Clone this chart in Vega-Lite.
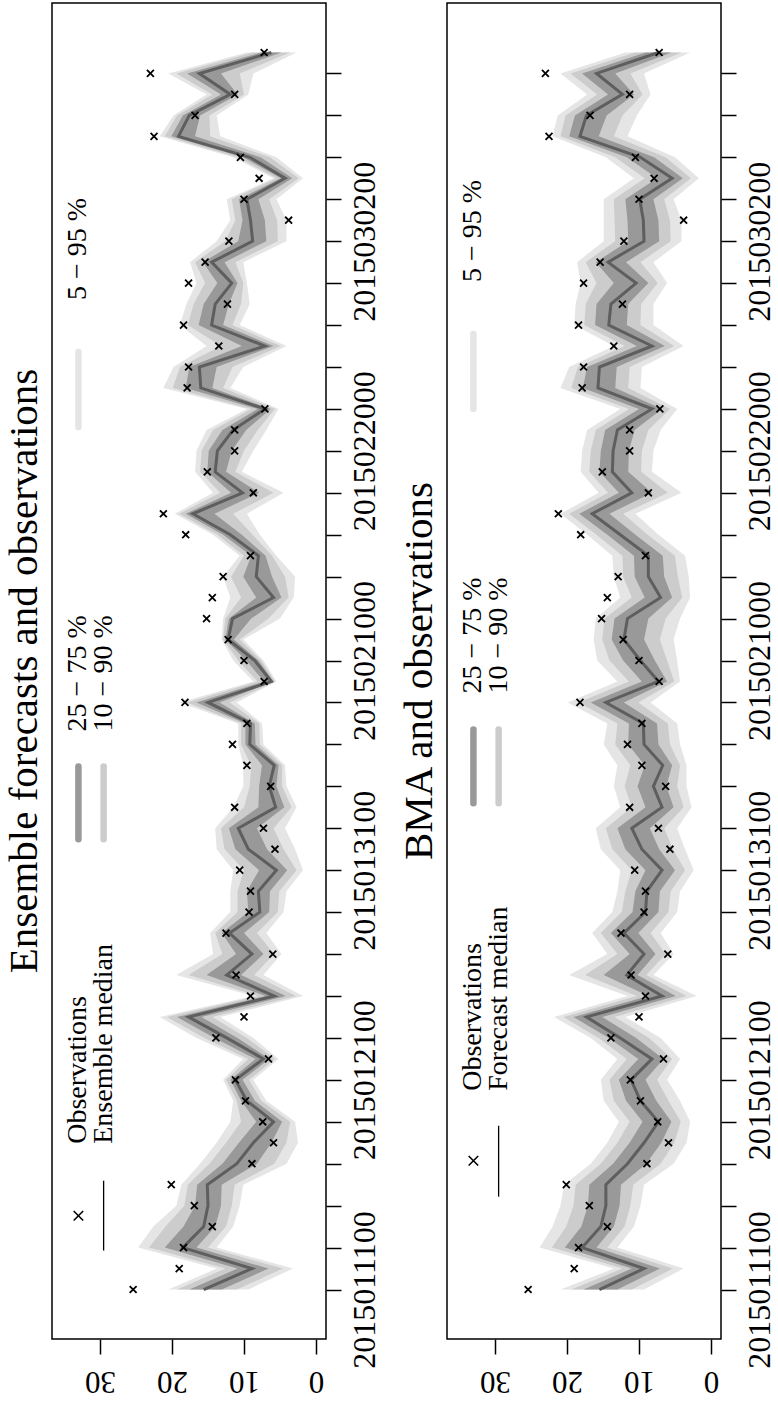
{
"$schema": "https://vega.github.io/schema/vega-lite/v6.json",
"background": "white",
"padding": {"left": 3, "top": 2, "right": 0, "bottom": 6},
"spacing": 17,
"config": {"view": {"stroke": "black", "strokeWidth": 1.5}, "font": "Liberation Serif"},
"datasets": {
"ens": [
{"date":"2015-01-11","obs":25.4,"q05":9.4,"q10":11.0,"q25":13.1,"q50":15.6,"q75":17.6,"q90":19.3,"q95":20.5},
{"date":"2015-01-12","obs":19.0,"q05":3.2,"q10":4.6,"q25":6.6,"q50":8.9,"q75":10.9,"q90":12.6,"q95":13.8},
{"date":"2015-01-13","obs":18.4,"q05":13.8,"q10":15.0,"q25":16.6,"q50":18.5,"q75":21.0,"q90":23.2,"q95":24.7},
{"date":"2015-01-14","obs":14.4,"q05":11.5,"q10":12.5,"q25":14.0,"q50":15.6,"q75":18.4,"q90":20.9,"q95":22.6},
{"date":"2015-01-15","obs":16.9,"q05":10.6,"q10":11.7,"q25":13.2,"q50":15.0,"q75":16.8,"q90":18.3,"q95":19.4},
{"date":"2015-01-16","obs":20.1,"q05":10.1,"q10":11.3,"q25":13.1,"q50":15.1,"q75":16.5,"q90":17.8,"q95":18.7},
{"date":"2015-01-17","obs":8.9,"q05":4.1,"q10":5.8,"q25":8.2,"q50":11.0,"q75":13.0,"q90":14.8,"q95":16.1},
{"date":"2015-01-18","obs":5.9,"q05":2.5,"q10":4.1,"q25":6.2,"q50":8.7,"q75":10.7,"q90":12.5,"q95":13.8},
{"date":"2015-01-19","obs":7.4,"q05":2.9,"q10":3.6,"q25":4.7,"q50":5.9,"q75":8.3,"q90":10.4,"q95":11.9},
{"date":"2015-01-20","obs":9.8,"q05":6.9,"q10":7.6,"q25":8.5,"q50":9.6,"q75":10.4,"q90":11.0,"q95":11.5},
{"date":"2015-01-21","obs":11.2,"q05":8.7,"q10":9.3,"q25":10.2,"q50":11.2,"q75":11.9,"q90":12.5,"q95":12.9},
{"date":"2015-01-22","obs":6.6,"q05":5.2,"q10":5.7,"q25":6.5,"q50":7.3,"q75":8.4,"q90":9.4,"q95":10.1},
{"date":"2015-01-23","obs":13.9,"q05":8.7,"q10":9.6,"q25":10.9,"q50":12.4,"q75":14.1,"q90":15.5,"q95":16.6},
{"date":"2015-01-24","obs":10.0,"q05":13.3,"q10":14.4,"q25":15.9,"q50":17.7,"q75":19.3,"q90":20.7,"q95":21.7},
{"date":"2015-01-25","obs":9.1,"q05":1.8,"q10":2.8,"q25":4.2,"q50":5.8,"q75":7.0,"q90":8.0,"q95":8.7},
{"date":"2015-01-26","obs":11.1,"q05":7.3,"q10":8.6,"q25":10.4,"q50":12.4,"q75":15.2,"q90":17.7,"q95":19.4},
{"date":"2015-01-27","obs":6.0,"q05":4.8,"q10":5.8,"q25":7.3,"q50":8.9,"q75":11.1,"q90":13.0,"q95":14.3},
{"date":"2015-01-28","obs":12.5,"q05":6.9,"q10":8.2,"q25":10.0,"q50":12.0,"q75":13.1,"q90":14.0,"q95":14.7},
{"date":"2015-01-29","obs":9.3,"q05":4.5,"q10":5.3,"q25":6.5,"q50":7.8,"q75":9.4,"q90":10.9,"q95":11.9},
{"date":"2015-01-30","obs":9.1,"q05":4.1,"q10":5.1,"q25":6.4,"q50":8.0,"q75":9.6,"q90":10.9,"q95":11.9},
{"date":"2015-01-31","obs":10.6,"q05":1.8,"q10":2.7,"q25":4.0,"q50":5.5,"q75":7.9,"q90":10.0,"q95":11.5},
{"date":"2015-02-01","obs":5.7,"q05":2.9,"q10":4.5,"q25":6.8,"q50":9.4,"q75":11.2,"q90":12.7,"q95":13.8},
{"date":"2015-02-02","obs":7.3,"q05":4.3,"q10":5.9,"q25":8.2,"q50":10.8,"q75":12.1,"q90":13.2,"q95":14.0},
{"date":"2015-02-03","obs":11.3,"q05":2.7,"q10":3.4,"q25":4.4,"q50":5.6,"q75":8.0,"q90":10.0,"q95":11.5},
{"date":"2015-02-04","obs":6.3,"q05":4.1,"q10":4.7,"q25":5.5,"q50":6.5,"q75":7.9,"q90":9.2,"q95":10.1},
{"date":"2015-02-05","obs":9.6,"q05":4.3,"q10":4.7,"q25":5.2,"q50":5.8,"q75":7.5,"q90":9.0,"q95":10.1},
{"date":"2015-02-06","obs":11.6,"q05":7.3,"q10":7.8,"q25":8.4,"q50":9.2,"q75":9.8,"q90":10.4,"q95":10.8},
{"date":"2015-02-07","obs":9.6,"q05":7.5,"q10":7.9,"q25":8.5,"q50":9.1,"q75":9.8,"q90":10.4,"q95":10.8},
{"date":"2015-02-08","obs":18.2,"q05":11.0,"q10":12.0,"q25":13.4,"q50":15.0,"q75":16.6,"q90":17.9,"q95":18.9},
{"date":"2015-02-09","obs":7.2,"q05":5.5,"q10":5.7,"q25":5.9,"q50":6.2,"q75":7.2,"q90":8.1,"q95":8.7},
{"date":"2015-02-10","obs":10.0,"q05":7.3,"q10":7.6,"q25":8.0,"q50":8.5,"q75":9.7,"q90":10.8,"q95":11.5},
{"date":"2015-02-11","obs":12.2,"q05":10.1,"q10":10.6,"q25":11.4,"q50":12.2,"q75":12.6,"q90":12.9,"q95":13.1},
{"date":"2015-02-12","obs":15.2,"q05":5.0,"q10":6.6,"q25":9.0,"q50":11.6,"q75":12.1,"q90":12.6,"q95":12.9},
{"date":"2015-02-13","obs":14.4,"q05":3.1,"q10":3.8,"q25":4.8,"q50":5.9,"q75":8.3,"q90":10.4,"q95":11.9},
{"date":"2015-02-14","obs":12.9,"q05":2.9,"q10":4.3,"q25":6.1,"q50":8.3,"q75":10.1,"q90":11.8,"q95":12.9},
{"date":"2015-02-15","obs":9.1,"q05":5.5,"q10":6.1,"q25":7.0,"q50":8.0,"q75":9.0,"q90":10.0,"q95":10.6},
{"date":"2015-02-16","obs":18.1,"q05":7.8,"q10":8.8,"q25":10.3,"q50":11.9,"q75":12.9,"q90":13.7,"q95":14.3},
{"date":"2015-02-17","obs":21.2,"q05":9.6,"q10":11.5,"q25":14.1,"q50":17.1,"q75":18.1,"q90":19.0,"q95":19.6},
{"date":"2015-02-18","obs":8.7,"q05":4.5,"q10":5.9,"q25":7.9,"q50":10.2,"q75":11.8,"q90":13.3,"q95":14.3},
{"date":"2015-02-19","obs":15.1,"q05":10.3,"q10":11.2,"q25":12.5,"q50":14.0,"q75":15.1,"q90":16.1,"q95":16.8},
{"date":"2015-02-20","obs":11.3,"q05":8.7,"q10":10.0,"q25":11.7,"q50":13.7,"q75":14.9,"q90":15.9,"q95":16.6},
{"date":"2015-02-21","obs":11.3,"q05":6.9,"q10":8.1,"q25":9.7,"q50":11.5,"q75":13.0,"q90":14.3,"q95":15.2},
{"date":"2015-02-22","obs":7.1,"q05":5.2,"q10":5.7,"q25":6.3,"q50":7.1,"q75":8.1,"q90":9.0,"q95":9.6},
{"date":"2015-02-23","obs":17.9,"q05":11.9,"q10":12.9,"q25":14.4,"q50":16.0,"q75":18.1,"q90":19.9,"q95":21.2},
{"date":"2015-02-24","obs":17.7,"q05":10.1,"q10":11.6,"q25":13.8,"q50":16.2,"q75":17.6,"q90":18.9,"q95":19.8},
{"date":"2015-02-25","obs":13.5,"q05":4.1,"q10":4.9,"q25":5.9,"q50":7.1,"q75":10.3,"q90":13.2,"q95":15.2},
{"date":"2015-02-26","obs":18.4,"q05":10.6,"q10":11.6,"q25":12.9,"q50":14.5,"q75":16.3,"q90":17.8,"q95":18.9},
{"date":"2015-02-27","obs":12.3,"q05":9.2,"q10":10.4,"q25":12.1,"q50":14.0,"q75":15.6,"q90":17.0,"q95":18.0},
{"date":"2015-02-28","obs":17.7,"q05":9.6,"q10":10.1,"q25":10.9,"q50":11.7,"q75":13.7,"q90":15.4,"q95":16.6},
{"date":"2015-03-01","obs":15.4,"q05":10.1,"q10":11.2,"q25":12.7,"q50":14.5,"q75":15.7,"q90":16.8,"q95":17.5},
{"date":"2015-03-02","obs":12.1,"q05":4.1,"q10":5.3,"q25":6.9,"q50":8.8,"q75":10.8,"q90":12.6,"q95":13.8},
{"date":"2015-03-03","obs":3.8,"q05":4.1,"q10":5.4,"q25":7.1,"q50":9.1,"q75":10.2,"q90":11.2,"q95":11.9},
{"date":"2015-03-04","obs":10.0,"q05":5.5,"q10":6.5,"q25":8.0,"q50":9.6,"q75":10.7,"q90":11.7,"q95":12.4},
{"date":"2015-03-05","obs":7.9,"q05":1.8,"q10":2.4,"q25":3.3,"q50":4.3,"q75":4.9,"q90":5.5,"q95":5.9},
{"date":"2015-03-06","obs":10.5,"q05":5.5,"q10":6.4,"q25":7.7,"q50":9.2,"q75":10.1,"q90":10.9,"q95":11.5},
{"date":"2015-03-07","obs":22.5,"q05":13.3,"q10":14.7,"q25":16.8,"q50":19.1,"q75":20.1,"q90":21.0,"q95":21.7},
{"date":"2015-03-08","obs":16.8,"q05":13.8,"q10":14.8,"q25":16.1,"q50":17.6,"q75":18.5,"q90":19.3,"q95":19.8},
{"date":"2015-03-09","obs":11.3,"q05":9.4,"q10":10.0,"q25":10.9,"q50":11.9,"q75":13.2,"q90":14.4,"q95":15.2},
{"date":"2015-03-10","obs":23.0,"q05":8.7,"q10":10.6,"q25":13.2,"q50":16.2,"q75":17.9,"q90":19.4,"q95":20.5},
{"date":"2015-03-11","obs":7.2,"q05":2.7,"q10":3.6,"q25":4.8,"q50":6.2,"q75":7.6,"q90":8.8,"q95":9.6}
],
"bma": [
{"date":"2015-01-11","obs":25.4,"q05":9.3,"q10":11.0,"q25":13.0,"q50":15.5,"q75":17.7,"q90":19.4,"q95":20.9},
{"date":"2015-01-12","obs":19.0,"q05":3.8,"q10":5.3,"q25":7.1,"q50":9.3,"q75":11.0,"q90":12.3,"q95":13.5},
{"date":"2015-01-13","obs":18.4,"q05":13.0,"q10":14.4,"q25":15.9,"q50":17.9,"q75":20.3,"q90":22.1,"q95":23.8},
{"date":"2015-01-14","obs":14.4,"q05":10.7,"q10":12.0,"q25":13.5,"q50":15.3,"q75":18.0,"q90":20.1,"q95":22.0},
{"date":"2015-01-15","obs":16.9,"q05":9.8,"q10":11.2,"q25":12.7,"q50":14.6,"q75":17.1,"q90":19.1,"q95":20.9},
{"date":"2015-01-16","obs":20.1,"q05":9.3,"q10":10.8,"q25":12.5,"q50":14.6,"q75":16.9,"q90":18.8,"q95":20.4},
{"date":"2015-01-17","obs":8.9,"q05":5.2,"q10":7.0,"q25":9.0,"q50":11.6,"q75":13.6,"q90":15.3,"q95":16.7},
{"date":"2015-01-18","obs":5.9,"q05":3.4,"q10":5.1,"q25":6.9,"q50":9.3,"q75":11.3,"q90":13.0,"q95":14.4},
{"date":"2015-01-19","obs":7.4,"q05":2.9,"q10":4.2,"q25":5.5,"q50":7.3,"q75":9.5,"q90":11.3,"q95":12.8},
{"date":"2015-01-20","obs":9.8,"q05":4.3,"q10":5.9,"q25":7.6,"q50":9.8,"q75":11.8,"q90":13.5,"q95":14.9},
{"date":"2015-01-21","obs":11.2,"q05":6.1,"q10":7.5,"q25":9.1,"q50":11.1,"q75":12.8,"q90":14.1,"q95":15.3},
{"date":"2015-01-22","obs":6.6,"q05":4.3,"q10":5.4,"q25":6.6,"q50":8.2,"q75":10.1,"q90":11.7,"q95":13.0},
{"date":"2015-01-23","obs":13.9,"q05":7.0,"q10":8.6,"q25":10.4,"q50":12.6,"q75":14.2,"q90":15.6,"q95":16.7},
{"date":"2015-01-24","obs":10.0,"q05":11.9,"q10":13.4,"q25":15.1,"q50":17.3,"q75":19.1,"q90":20.5,"q95":21.8},
{"date":"2015-01-25","obs":9.1,"q05":2.0,"q10":3.4,"q25":4.9,"q50":6.8,"q75":8.7,"q90":10.3,"q95":11.6},
{"date":"2015-01-26","obs":11.1,"q05":8.0,"q10":9.0,"q25":10.2,"q50":11.7,"q75":14.9,"q90":17.5,"q95":19.7},
{"date":"2015-01-27","obs":6.0,"q05":5.2,"q10":6.3,"q25":7.7,"q50":9.3,"q75":11.3,"q90":13.0,"q95":14.4},
{"date":"2015-01-28","obs":12.5,"q05":7.0,"q10":8.4,"q25":10.1,"q50":12.1,"q75":13.9,"q90":15.3,"q95":16.5},
{"date":"2015-01-29","obs":9.3,"q05":4.7,"q10":5.9,"q25":7.3,"q50":9.1,"q75":10.9,"q90":12.4,"q95":13.7},
{"date":"2015-01-30","obs":9.1,"q05":4.3,"q10":5.6,"q25":7.1,"q50":8.9,"q75":10.5,"q90":11.9,"q95":13.0},
{"date":"2015-01-31","obs":10.6,"q05":2.4,"q10":3.6,"q25":5.0,"q50":6.8,"q75":9.1,"q90":11.0,"q95":12.6},
{"date":"2015-02-01","obs":5.7,"q05":3.6,"q10":5.3,"q25":7.2,"q50":9.6,"q75":11.9,"q90":13.7,"q95":15.3},
{"date":"2015-02-02","obs":7.3,"q05":4.7,"q10":6.5,"q25":8.5,"q50":11.0,"q75":13.0,"q90":14.6,"q95":16.0},
{"date":"2015-02-03","obs":11.3,"q05":2.7,"q10":3.8,"q25":5.2,"q50":6.8,"q75":9.1,"q90":11.0,"q95":12.6},
{"date":"2015-02-04","obs":6.3,"q05":3.4,"q10":4.7,"q25":6.2,"q50":8.0,"q75":10.2,"q90":12.0,"q95":13.5},
{"date":"2015-02-05","obs":9.6,"q05":3.4,"q10":4.3,"q25":5.4,"q50":6.7,"q75":9.2,"q90":11.2,"q95":13.0},
{"date":"2015-02-06","obs":11.6,"q05":4.3,"q10":5.7,"q25":7.3,"q50":9.3,"q75":11.5,"q90":13.3,"q95":14.9},
{"date":"2015-02-07","obs":9.6,"q05":4.7,"q10":6.0,"q25":7.5,"q50":9.4,"q75":11.4,"q90":13.0,"q95":14.4},
{"date":"2015-02-08","obs":18.2,"q05":8.4,"q10":10.1,"q25":12.1,"q50":14.6,"q75":16.7,"q90":18.4,"q95":19.9},
{"date":"2015-02-09","obs":7.2,"q05":4.3,"q10":5.1,"q25":6.1,"q50":7.3,"q75":9.6,"q90":11.4,"q95":13.0},
{"date":"2015-02-10","obs":10.0,"q05":4.7,"q10":6.1,"q25":7.8,"q50":9.8,"q75":12.2,"q90":14.1,"q95":15.8},
{"date":"2015-02-11","obs":12.2,"q05":5.2,"q10":7.1,"q25":9.3,"q50":12.1,"q75":13.8,"q90":15.1,"q95":16.3},
{"date":"2015-02-12","obs":15.2,"q05":4.3,"q10":6.3,"q25":8.7,"q50":11.6,"q75":13.4,"q90":14.8,"q95":16.0},
{"date":"2015-02-13","obs":14.4,"q05":2.9,"q10":4.0,"q25":5.4,"q50":7.0,"q75":9.2,"q90":11.0,"q95":12.6},
{"date":"2015-02-14","obs":12.9,"q05":3.1,"q10":4.6,"q25":6.5,"q50":8.7,"q75":10.6,"q90":12.2,"q95":13.5},
{"date":"2015-02-15","obs":9.1,"q05":3.6,"q10":5.0,"q25":6.7,"q50":8.7,"q75":10.7,"q90":12.3,"q95":13.7},
{"date":"2015-02-16","obs":18.1,"q05":7.3,"q10":8.8,"q25":10.5,"q50":12.6,"q75":14.4,"q90":15.9,"q95":17.2},
{"date":"2015-02-17","obs":21.2,"q05":10.5,"q10":12.2,"q25":14.1,"q50":16.5,"q75":18.3,"q90":19.7,"q95":20.9},
{"date":"2015-02-18","obs":8.7,"q05":4.1,"q10":6.0,"q25":8.2,"q50":11.0,"q75":12.8,"q90":14.3,"q95":15.6},
{"date":"2015-02-19","obs":15.1,"q05":8.2,"q10":9.7,"q25":11.5,"q50":13.7,"q75":15.5,"q90":16.9,"q95":18.1},
{"date":"2015-02-20","obs":11.3,"q05":8.0,"q10":9.6,"q25":11.4,"q50":13.6,"q75":15.3,"q90":16.7,"q95":17.9},
{"date":"2015-02-21","obs":11.3,"q05":7.0,"q10":8.7,"q25":10.6,"q50":13.0,"q75":14.7,"q90":16.0,"q95":17.2},
{"date":"2015-02-22","obs":7.1,"q05":4.7,"q10":5.7,"q25":6.8,"q50":8.2,"q75":10.0,"q90":11.4,"q95":12.6},
{"date":"2015-02-23","obs":17.9,"q05":9.8,"q10":11.5,"q25":13.3,"q50":15.7,"q75":17.8,"q90":19.4,"q95":20.9},
{"date":"2015-02-24","obs":17.7,"q05":9.6,"q10":11.3,"q25":13.1,"q50":15.5,"q75":17.2,"q90":18.5,"q95":19.7},
{"date":"2015-02-25","obs":13.5,"q05":3.8,"q10":5.1,"q25":6.4,"q50":8.2,"q75":10.3,"q90":12.0,"q95":13.5},
{"date":"2015-02-26","obs":18.4,"q05":8.0,"q10":9.8,"q25":11.7,"q50":14.2,"q75":16.1,"q90":17.6,"q95":19.0},
{"date":"2015-02-27","obs":12.3,"q05":8.0,"q10":9.7,"q25":11.5,"q50":13.9,"q75":15.9,"q90":17.4,"q95":18.8},
{"date":"2015-02-28","obs":17.7,"q05":6.1,"q10":7.4,"q25":8.7,"q50":10.4,"q75":13.5,"q90":15.9,"q95":18.1},
{"date":"2015-03-01","obs":15.4,"q05":8.0,"q10":9.8,"q25":11.8,"q50":14.3,"q75":16.0,"q90":17.4,"q95":18.6},
{"date":"2015-03-02","obs":12.1,"q05":4.1,"q10":5.6,"q25":7.2,"q50":9.3,"q75":11.5,"q90":13.3,"q95":14.9},
{"date":"2015-03-03","obs":3.8,"q05":4.1,"q10":5.7,"q25":7.3,"q50":9.4,"q75":11.6,"q90":13.4,"q95":14.9},
{"date":"2015-03-04","obs":10.0,"q05":5.2,"q10":6.5,"q25":8.0,"q50":9.9,"q75":11.9,"q90":13.5,"q95":14.9},
{"date":"2015-03-05","obs":7.9,"q05":1.7,"q10":2.8,"q25":3.9,"q50":5.4,"q75":7.5,"q90":9.2,"q95":10.7},
{"date":"2015-03-06","obs":10.5,"q05":5.0,"q10":6.3,"q25":7.9,"q50":9.8,"q75":11.7,"q90":13.3,"q95":14.6},
{"date":"2015-03-07","obs":22.5,"q05":11.6,"q10":13.5,"q25":15.6,"q50":18.2,"q75":19.7,"q90":20.9,"q95":22.0},
{"date":"2015-03-08","obs":16.8,"q05":10.3,"q10":12.3,"q25":14.5,"q50":17.3,"q75":18.9,"q90":20.2,"q95":21.3},
{"date":"2015-03-09","obs":11.3,"q05":8.4,"q10":9.5,"q25":10.7,"q50":12.3,"q75":14.3,"q90":15.8,"q95":17.2},
{"date":"2015-03-10","obs":23.0,"q05":9.3,"q10":11.2,"q25":13.3,"q50":15.9,"q75":17.9,"q90":19.5,"q95":20.9},
{"date":"2015-03-11","obs":7.2,"q05":2.9,"q10":4.1,"q25":5.5,"q50":7.3,"q75":9.1,"q90":10.6,"q95":11.9}
]
},
"hconcat": [
{
"width": 274, "height": 1336,
"title": {"text": "Ensemble forecasts and observations", "orient": "left", "anchor": "middle", "fontSize": 41, "font": "Liberation Serif", "fontWeight": "normal", "color": "black", "offset": 6},
"layer": [
 {"data": {"name": "ens"},
  "encoding": {"y": {"field": "date", "type": "temporal", "title": null,
   "scale": {"type": "utc", "domain": [1420730496000, 1426235904000], "nice": false},
   "axis": {"orient": "right", "values": [1420934400000,1421020800000,1421107200000,1421193600000,1421280000000,1421366400000,1421452800000,1421539200000,1421625600000,1421712000000,1421798400000,1421884800000,1421971200000,1422057600000,1422144000000,1422230400000,1422316800000,1422403200000,1422489600000,1422576000000,1422662400000,1422748800000,1422835200000,1422921600000,1423008000000,1423094400000,1423180800000,1423267200000,1423353600000,1423440000000,1423526400000,1423612800000,1423699200000,1423785600000,1423872000000,1423958400000,1424044800000,1424131200000,1424217600000,1424304000000,1424390400000,1424476800000,1424563200000,1424649600000,1424736000000,1424822400000,1424908800000,1424995200000,1425081600000,1425168000000,1425254400000,1425340800000,1425427200000,1425513600000,1425600000000,1425686400000,1425772800000,1425859200000,1425945600000,1426032000000],
     "labelExpr": "(time(datum.value) - 1420934400000) % 864000000 === 0 ? utcFormat(datum.value, '%Y%m%d%H') : ''",
     "labelAngle": 270, "labelAlign": "center", "labelBaseline": "top", "labelFont": "Liberation Serif", "labelFontSize": 32, "labelColor": "black", "labelPadding": 8, "labelOverlap": false, "labelFlush": false,
     "tickSize": 15, "tickWidth": 1.5, "tickColor": "black", "domain": false, "grid": false, "title": null}}},
  "layer": [
   {"mark": {"type": "area", "orient": "horizontal", "color": "#e5e5e5"},
    "encoding": {"x": {"field": "q05", "type": "quantitative", "title": null,
       "scale": {"domain": [-1.39, 36.67], "reverse": true, "nice": false, "zero": false},
       "axis": {"values": [0,5,10,15,20,25,30,35], "labelExpr": "datum.value % 10 === 0 ? datum.label : ''", "labelAngle": 180, "labelAlign": "center", "labelBaseline": "bottom", "labelFont": "Liberation Serif", "labelFontSize": 31, "labelColor": "black", "labelPadding": 10, "labelOverlap": false, "labelFlush": false, "tickSize": 15, "tickWidth": 1.5, "tickColor": "black", "domain": false, "grid": false, "title": null}},
     "x2": {"field": "q95"}}},
   {"mark": {"type": "area", "orient": "horizontal", "color": "#cccccc"},
    "encoding": {"x": {"field": "q10", "type": "quantitative", "title": null}, "x2": {"field": "q90"}}},
   {"mark": {"type": "area", "orient": "horizontal", "color": "#999999"},
    "encoding": {"x": {"field": "q25", "type": "quantitative", "title": null}, "x2": {"field": "q75"}}},
   {"mark": {"type": "line", "color": "#5e5e5e", "strokeWidth": 3},
    "encoding": {"x": {"field": "q50", "type": "quantitative", "title": null}, "order": {"field": "date", "type": "temporal"}}},
   {"mark": {"type": "point", "shape": "M-1,-1L1,1M-1,1L1,-1", "filled": false, "color": "black", "strokeWidth": 1.8, "size": 48, "opacity": 1},
    "encoding": {"x": {"field": "obs", "type": "quantitative", "title": null}}}
  ]},
 {"data": {"values": [{}]}, "mark": {"type": "point", "shape": "M-1,-1L1,1M-1,1L1,-1", "filled": false, "color": "black", "strokeWidth": 1.6, "size": 90, "opacity": 1},
  "encoding": {"x": {"datum": 33.0}, "y": {"datum": {"year": 2015, "month": 1, "date": 14, "hours": 12, "minutes": 29, "utc": true}, "type": "temporal"}}},
 {"data": {"values": [{}]}, "mark": {"type": "rule", "color": "black", "strokeWidth": 1.3},
  "encoding": {"x": {"datum": 29.5}, "y": {"datum": {"year": 2015, "month": 1, "date": 12, "hours": 20, "minutes": 38, "utc": true}, "type": "temporal"}, "y2": {"datum": {"year": 2015, "month": 1, "date": 16, "hours": 4, "minutes": 34, "utc": true}}}},
 {"data": {"values": [{}]}, "mark": {"type": "text", "text": "Observations", "angle": 270, "align": "left", "baseline": "middle", "font": "Liberation Serif", "fontSize": 28, "color": "black"},
  "encoding": {"x": {"datum": 33.0}, "y": {"datum": {"year": 2015, "month": 1, "date": 17, "hours": 22, "minutes": 48, "utc": true}, "type": "temporal"}}},
 {"data": {"values": [{}]}, "mark": {"type": "text", "text": "Ensemble median", "angle": 270, "align": "left", "baseline": "middle", "font": "Liberation Serif", "fontSize": 28, "color": "black"},
  "encoding": {"x": {"datum": 29.5}, "y": {"datum": {"year": 2015, "month": 1, "date": 17, "hours": 22, "minutes": 48, "utc": true}, "type": "temporal"}}},
 {"data": {"values": [{}]}, "mark": {"type": "rule", "color": "#999999", "strokeWidth": 6.5, "strokeCap": "round"},
  "encoding": {"x": {"datum": 33.0}, "y": {"datum": {"year": 2015, "month": 2, "date": 1, "hours": 11, "minutes": 31, "utc": true}, "type": "temporal"}, "y2": {"datum": {"year": 2015, "month": 2, "date": 4, "hours": 22, "minutes": 48, "utc": true}}}},
 {"data": {"values": [{}]}, "mark": {"type": "rule", "color": "#cccccc", "strokeWidth": 6.5, "strokeCap": "round"},
  "encoding": {"x": {"datum": 29.5}, "y": {"datum": {"year": 2015, "month": 2, "date": 1, "hours": 11, "minutes": 31, "utc": true}, "type": "temporal"}, "y2": {"datum": {"year": 2015, "month": 2, "date": 4, "hours": 22, "minutes": 48, "utc": true}}}},
 {"data": {"values": [{}]}, "mark": {"type": "text", "text": "25 − 75 %", "angle": 270, "align": "left", "baseline": "middle", "font": "Liberation Serif", "fontSize": 28, "color": "black"},
  "encoding": {"x": {"datum": 33.0}, "y": {"datum": {"year": 2015, "month": 2, "date": 6, "hours": 14, "minutes": 53, "utc": true}, "type": "temporal"}}},
 {"data": {"values": [{}]}, "mark": {"type": "text", "text": "10 − 90 %", "angle": 270, "align": "left", "baseline": "middle", "font": "Liberation Serif", "fontSize": 28, "color": "black"},
  "encoding": {"x": {"datum": 29.5}, "y": {"datum": {"year": 2015, "month": 2, "date": 6, "hours": 14, "minutes": 53, "utc": true}, "type": "temporal"}}},
 {"data": {"values": [{}]}, "mark": {"type": "rule", "color": "#e5e5e5", "strokeWidth": 6.5, "strokeCap": "round"},
  "encoding": {"x": {"datum": 33.0}, "y": {"datum": {"year": 2015, "month": 2, "date": 21, "hours": 3, "minutes": 22, "utc": true}, "type": "temporal"}, "y2": {"datum": {"year": 2015, "month": 2, "date": 24, "hours": 17, "minutes": 2, "utc": true}}}},
 {"data": {"values": [{}]}, "mark": {"type": "text", "text": "5 − 95 %", "angle": 270, "align": "left", "baseline": "middle", "font": "Liberation Serif", "fontSize": 28, "color": "black"},
  "encoding": {"x": {"datum": 33.0}, "y": {"datum": {"year": 2015, "month": 2, "date": 27, "hours": 4, "minutes": 34, "utc": true}, "type": "temporal"}}}
]
},
{
"width": 274, "height": 1336,
"title": {"text": "BMA and observations", "orient": "left", "anchor": "middle", "fontSize": 41, "font": "Liberation Serif", "fontWeight": "normal", "color": "black", "offset": 6},
"layer": [
 {"data": {"name": "bma"},
  "encoding": {"y": {"field": "date", "type": "temporal", "title": null,
   "scale": {"type": "utc", "domain": [1420730496000, 1426235904000], "nice": false},
   "axis": {"orient": "right", "values": [1420934400000,1421020800000,1421107200000,1421193600000,1421280000000,1421366400000,1421452800000,1421539200000,1421625600000,1421712000000,1421798400000,1421884800000,1421971200000,1422057600000,1422144000000,1422230400000,1422316800000,1422403200000,1422489600000,1422576000000,1422662400000,1422748800000,1422835200000,1422921600000,1423008000000,1423094400000,1423180800000,1423267200000,1423353600000,1423440000000,1423526400000,1423612800000,1423699200000,1423785600000,1423872000000,1423958400000,1424044800000,1424131200000,1424217600000,1424304000000,1424390400000,1424476800000,1424563200000,1424649600000,1424736000000,1424822400000,1424908800000,1424995200000,1425081600000,1425168000000,1425254400000,1425340800000,1425427200000,1425513600000,1425600000000,1425686400000,1425772800000,1425859200000,1425945600000,1426032000000],
     "labelExpr": "(time(datum.value) - 1420934400000) % 864000000 === 0 ? utcFormat(datum.value, '%Y%m%d%H') : ''",
     "labelAngle": 270, "labelAlign": "center", "labelBaseline": "top", "labelFont": "Liberation Serif", "labelFontSize": 32, "labelColor": "black", "labelPadding": 8, "labelOverlap": false, "labelFlush": false,
     "tickSize": 15, "tickWidth": 1.5, "tickColor": "black", "domain": false, "grid": false, "title": null}}},
  "layer": [
   {"mark": {"type": "area", "orient": "horizontal", "color": "#e5e5e5"},
    "encoding": {"x": {"field": "q05", "type": "quantitative", "title": null,
       "scale": {"domain": [-1.39, 36.67], "reverse": true, "nice": false, "zero": false},
       "axis": {"values": [0,5,10,15,20,25,30,35], "labelExpr": "datum.value % 10 === 0 ? datum.label : ''", "labelAngle": 180, "labelAlign": "center", "labelBaseline": "bottom", "labelFont": "Liberation Serif", "labelFontSize": 31, "labelColor": "black", "labelPadding": 10, "labelOverlap": false, "labelFlush": false, "tickSize": 15, "tickWidth": 1.5, "tickColor": "black", "domain": false, "grid": false, "title": null}},
     "x2": {"field": "q95"}}},
   {"mark": {"type": "area", "orient": "horizontal", "color": "#cccccc"},
    "encoding": {"x": {"field": "q10", "type": "quantitative", "title": null}, "x2": {"field": "q90"}}},
   {"mark": {"type": "area", "orient": "horizontal", "color": "#999999"},
    "encoding": {"x": {"field": "q25", "type": "quantitative", "title": null}, "x2": {"field": "q75"}}},
   {"mark": {"type": "line", "color": "#5e5e5e", "strokeWidth": 3},
    "encoding": {"x": {"field": "q50", "type": "quantitative", "title": null}, "order": {"field": "date", "type": "temporal"}}},
   {"mark": {"type": "point", "shape": "M-1,-1L1,1M-1,1L1,-1", "filled": false, "color": "black", "strokeWidth": 1.8, "size": 48, "opacity": 1},
    "encoding": {"x": {"field": "obs", "type": "quantitative", "title": null}}}
  ]},
 {"data": {"values": [{}]}, "mark": {"type": "point", "shape": "M-1,-1L1,1M-1,1L1,-1", "filled": false, "color": "black", "strokeWidth": 1.6, "size": 90, "opacity": 1},
  "encoding": {"x": {"datum": 33.0}, "y": {"datum": {"year": 2015, "month": 1, "date": 17, "hours": 3, "minutes": 22, "utc": true}, "type": "temporal"}}},
 {"data": {"values": [{}]}, "mark": {"type": "rule", "color": "black", "strokeWidth": 1.3},
  "encoding": {"x": {"datum": 29.5}, "y": {"datum": {"year": 2015, "month": 1, "date": 15, "hours": 10, "minutes": 19, "utc": true}, "type": "temporal"}, "y2": {"datum": {"year": 2015, "month": 1, "date": 18, "hours": 19, "minutes": 26, "utc": true}}}},
 {"data": {"values": [{}]}, "mark": {"type": "text", "text": "Observations", "angle": 270, "align": "left", "baseline": "middle", "font": "Liberation Serif", "fontSize": 28, "color": "black"},
  "encoding": {"x": {"datum": 33.0}, "y": {"datum": {"year": 2015, "month": 1, "date": 20, "hours": 11, "minutes": 31, "utc": true}, "type": "temporal"}}},
 {"data": {"values": [{}]}, "mark": {"type": "text", "text": "Forecast median", "angle": 270, "align": "left", "baseline": "middle", "font": "Liberation Serif", "fontSize": 28, "color": "black"},
  "encoding": {"x": {"datum": 29.5}, "y": {"datum": {"year": 2015, "month": 1, "date": 20, "hours": 11, "minutes": 31, "utc": true}, "type": "temporal"}}},
 {"data": {"values": [{}]}, "mark": {"type": "rule", "color": "#999999", "strokeWidth": 6.5, "strokeCap": "round"},
  "encoding": {"x": {"datum": 33.0}, "y": {"datum": {"year": 2015, "month": 2, "date": 3, "hours": 4, "minutes": 34, "utc": true}, "type": "temporal"}, "y2": {"datum": {"year": 2015, "month": 2, "date": 6, "hours": 17, "minutes": 2, "utc": true}}}},
 {"data": {"values": [{}]}, "mark": {"type": "rule", "color": "#cccccc", "strokeWidth": 6.5, "strokeCap": "round"},
  "encoding": {"x": {"datum": 29.5}, "y": {"datum": {"year": 2015, "month": 2, "date": 3, "hours": 4, "minutes": 34, "utc": true}, "type": "temporal"}, "y2": {"datum": {"year": 2015, "month": 2, "date": 6, "hours": 17, "minutes": 2, "utc": true}}}},
 {"data": {"values": [{}]}, "mark": {"type": "text", "text": "25 − 75 %", "angle": 270, "align": "left", "baseline": "middle", "font": "Liberation Serif", "fontSize": 28, "color": "black"},
  "encoding": {"x": {"datum": 33.0}, "y": {"datum": {"year": 2015, "month": 2, "date": 8, "hours": 10, "minutes": 19, "utc": true}, "type": "temporal"}}},
 {"data": {"values": [{}]}, "mark": {"type": "text", "text": "10 − 90 %", "angle": 270, "align": "left", "baseline": "middle", "font": "Liberation Serif", "fontSize": 28, "color": "black"},
  "encoding": {"x": {"datum": 29.5}, "y": {"datum": {"year": 2015, "month": 2, "date": 8, "hours": 10, "minutes": 19, "utc": true}, "type": "temporal"}}},
 {"data": {"values": [{}]}, "mark": {"type": "rule", "color": "#e5e5e5", "strokeWidth": 6.5, "strokeCap": "round"},
  "encoding": {"x": {"datum": 33.0}, "y": {"datum": {"year": 2015, "month": 2, "date": 22, "hours": 0, "minutes": 0, "utc": true}, "type": "temporal"}, "y2": {"datum": {"year": 2015, "month": 2, "date": 25, "hours": 13, "minutes": 41, "utc": true}}}},
 {"data": {"values": [{}]}, "mark": {"type": "text", "text": "5 − 95 %", "angle": 270, "align": "left", "baseline": "middle", "font": "Liberation Serif", "fontSize": 28, "color": "black"},
  "encoding": {"x": {"datum": 33.0}, "y": {"datum": {"year": 2015, "month": 2, "date": 28, "hours": 1, "minutes": 12, "utc": true}, "type": "temporal"}}}
]
}
]
}
